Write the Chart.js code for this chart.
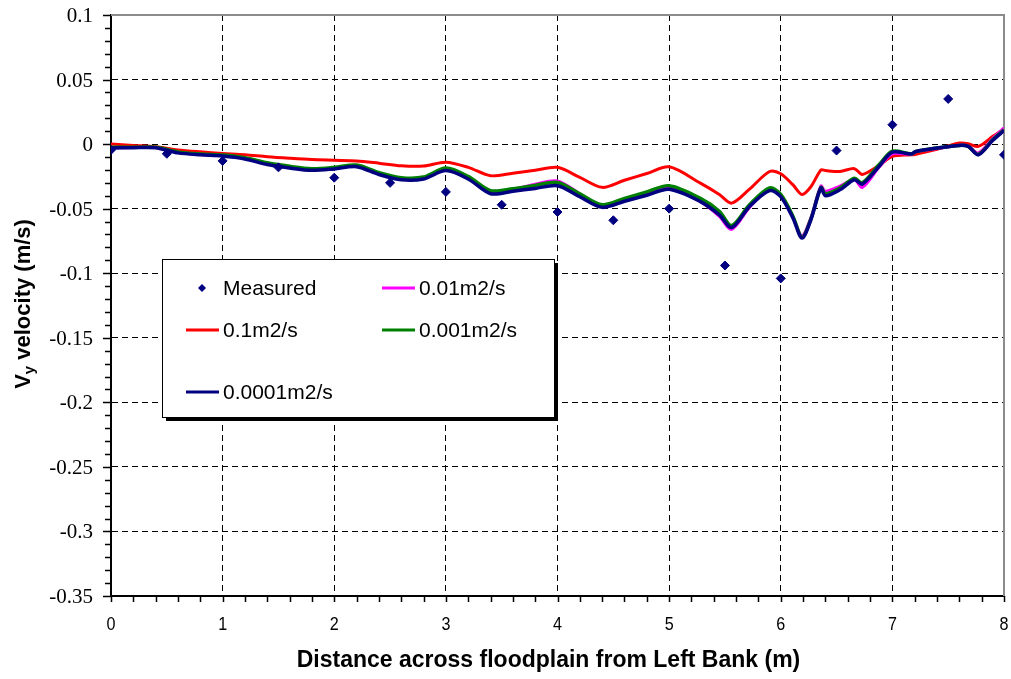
<!DOCTYPE html>
<html>
<head>
<meta charset="utf-8">
<script src="https://cdn.jsdelivr.net/npm/chart.js@4.4.1/dist/chart.umd.min.js"></script>
<style>
  html, body { margin: 0; padding: 0; background: #fff; }
  #wrap { width: 1011px; height: 679px; }
</style>
</head>
<body>
<div id="wrap"><canvas id="vyChart" width="1011" height="679"></canvas></div>
<script>
// Measured points
const measuredX = [0, 0.5, 1, 1.5, 2, 2.5, 3, 3.5, 4, 4.5, 5, 5.5, 6, 6.5, 7, 7.5, 8];
const measuredY = [-0.0045, -0.0075, -0.013, -0.018, -0.026, -0.030, -0.037, -0.047, -0.0526, -0.059,
  -0.050, -0.094, -0.104, -0.005, 0.015, 0.035, -0.0083];

// Model nodes across the floodplain
const modelX = [0, 0.2, 0.4, 0.6, 0.8, 1.0, 1.2, 1.4, 1.6, 1.8, 2.0, 2.2, 2.4, 2.6, 2.8, 3.0, 3.2, 3.4, 3.6, 3.8,
  4.0, 4.2, 4.4, 4.6, 4.8, 5.0, 5.28, 5.45, 5.56, 5.72, 5.9, 6.0, 6.11, 6.19, 6.27, 6.36, 6.4, 6.53, 6.66, 6.73,
  6.88, 7.0, 7.17, 7.21, 7.4, 7.6, 7.68, 7.77, 7.9, 8.0];

// eddy viscosity 0.1 m2/s
const visc01 = [0.000, -0.001, -0.002, -0.0045, -0.006, -0.0072, -0.0082, -0.0098, -0.011, -0.012,
  -0.0125, -0.013, -0.0148, -0.0168, -0.017, -0.014, -0.018, -0.0245, -0.0225, -0.0202,
  -0.018, -0.0258, -0.0335, -0.028, -0.0228, -0.0176, -0.0302, -0.039, -0.0457, -0.0349,
  -0.0212, -0.023, -0.0316, -0.039, -0.033, -0.020, -0.0205, -0.0212, -0.019, -0.0235,
  -0.0165, -0.0095, -0.0083, -0.0078, -0.004, 0.0008, 0.0003, -0.0018, 0.006, 0.0115];

// 0.01 m2/s
const visc001 = [-0.0028, -0.0027, -0.0027, -0.0065, -0.008, -0.009, -0.011, -0.0152, -0.018, -0.0198,
  -0.0186, -0.017, -0.023, -0.027, -0.0265, -0.0195, -0.026, -0.0372, -0.0352, -0.031,
  -0.0285, -0.0385, -0.048, -0.0435, -0.038, -0.033, -0.0445, -0.056, -0.066, -0.049,
  -0.035, -0.040, -0.057, -0.071, -0.057, -0.0325, -0.0365, -0.0325, -0.0275, -0.0335,
  -0.018, -0.0075, -0.008, -0.006, -0.0035, -0.0008, -0.0015, -0.0068, 0.0045, 0.0125];

// 0.001 m2/s
const visc0001 = [-0.0025, -0.0025, -0.0025, -0.006, -0.0076, -0.0085, -0.0105, -0.0145, -0.0172, -0.019,
  -0.018, -0.0162, -0.022, -0.026, -0.0255, -0.0185, -0.025, -0.036, -0.0345, -0.032,
  -0.0297, -0.0385, -0.047, -0.042, -0.037, -0.0322, -0.042, -0.052, -0.063, -0.047,
  -0.034, -0.039, -0.056, -0.072, -0.058, -0.0335, -0.0385, -0.034, -0.0265, -0.030,
  -0.016, -0.0055, -0.0075, -0.0057, -0.003, -0.001, -0.0018, -0.008, 0.0035, 0.011];

// 0.0001 m2/s
const visc00001 = [-0.003, -0.0028, -0.0028, -0.0068, -0.0083, -0.0092, -0.0115, -0.0158, -0.0185, -0.0203,
  -0.0192, -0.0175, -0.0235, -0.0276, -0.027, -0.0205, -0.027, -0.0384, -0.0365, -0.0343,
  -0.0322, -0.0408, -0.049, -0.0443, -0.0396, -0.035, -0.0445, -0.0548, -0.0646, -0.0483,
  -0.036, -0.0406, -0.0573, -0.0728, -0.0586, -0.034, -0.040, -0.0354, -0.0276, -0.031,
  -0.0173, -0.0062, -0.0077, -0.0057, -0.003, -0.001, -0.0018, -0.0083, 0.003, 0.0105];

const seriesLabels = ['Measured', '0.01m2/s', '0.1m2/s', '0.001m2/s', '0.0001m2/s'];
const xTitle = 'Distance across floodplain from Left Bank (m)';

function toPoints(xs, ys) {
  return xs.map((x, i) => ({ x: x, y: ys[i] }));
}

function lineSet(label, data, color, width, order) {
  return {
    type: 'line',
    label: label,
    data: toPoints(modelX, data),
    borderColor: color,
    backgroundColor: color,
    borderWidth: width,
    pointRadius: 0,
    tension: 0.3,
    fill: false,
    order: order
  };
}

function fmtTick(v) {
  return String(Math.round(v * 100) / 100);
}

// Ticks, labels, border, axis titles, legend
const extrasPlugin = {
  id: 'extras',
  beforeDatasetsDraw(chart) {
    const ctx = chart.ctx;
    const { left, right, top, bottom } = chart.chartArea;
    const xs = chart.scales.x;
    const ys = chart.scales.y;
    ctx.save();
    ctx.strokeStyle = '#8c8c8c';
    ctx.lineWidth = 2;
    ctx.beginPath();
    ctx.moveTo(left, top);
    ctx.lineTo(right, top);
    ctx.lineTo(right, bottom);
    ctx.stroke();

    // minor and major tick marks
    ctx.strokeStyle = '#000';
    ctx.lineWidth = 1.5;
    ctx.beginPath();
    for (let i = -35; i <= 10; i++) {
      const y = Math.round(ys.getPixelForValue(i / 100)) + 0.5;
      const len = (i % 5 === 0) ? 8 : 6;
      ctx.moveTo(left - len, y);
      ctx.lineTo(left, y);
    }
    for (let i = 0; i <= 40; i++) {
      const x = Math.round(xs.getPixelForValue(i / 5)) + 0.5;
      ctx.moveTo(x, bottom);
      ctx.lineTo(x, bottom + 6);
    }
    ctx.stroke();

    // tick labels
    ctx.fillStyle = '#000';
    ctx.font = '21px "Liberation Serif", "Times New Roman", Times, "Nimbus Roman", "DejaVu Serif", "Noto Serif", serif';
    ctx.textAlign = 'right';
    ctx.textBaseline = 'middle';
    ys.ticks.forEach((t) => {
      ctx.fillText(fmtTick(t.value), left - 18, ys.getPixelForValue(t.value) + 1.5);
    });
    ctx.font = '19px "Liberation Sans", Arial, sans-serif';
    ctx.textAlign = 'center';
    xs.ticks.forEach((t) => {
      const px = xs.getPixelForValue(t.value);
      ctx.save();
      ctx.translate(px, bottom + 29);
      ctx.scale(0.85, 1);
      ctx.fillText(fmtTick(t.value), 0, 0);
      ctx.restore();
    });
    ctx.restore();
  },
  afterDraw(chart) {
    const ctx = chart.ctx;
    const { left, right, top, bottom } = chart.chartArea;
    ctx.save();
    ctx.fillStyle = '#000';

    // x axis title
    ctx.font = 'bold 23px "Liberation Sans", Arial, sans-serif';
    ctx.textAlign = 'center';
    ctx.textBaseline = 'middle';
    ctx.fillText(xTitle, (left + right) / 2 - 9, 661);

    // y axis title with subscript
    const big = 'bold 22px "Liberation Sans", Arial, sans-serif';
    const small = 'bold 15px "Liberation Sans", Arial, sans-serif';
    ctx.font = big;
    const wV = ctx.measureText('V').width;
    const wRest = ctx.measureText(' velocity (m/s)').width;
    ctx.font = small;
    const wSub = ctx.measureText('y').width;
    const total = wV + wSub + wRest;
    ctx.translate(22, 304);
    ctx.rotate(-Math.PI / 2);
    ctx.textAlign = 'left';
    ctx.textBaseline = 'alphabetic';
    let cx = -total / 2;
    ctx.font = big;
    ctx.fillText('V', cx, 8);
    cx += wV;
    ctx.font = small;
    ctx.fillText('y', cx, 12);
    cx += wSub;
    ctx.font = big;
    ctx.fillText(' velocity (m/s)', cx, 8);
    ctx.restore();

    // legend box
    ctx.save();
    const bx = 162, by = 259, bw = 392, bh = 158;
    ctx.fillStyle = '#000';
    ctx.fillRect(bx + 4, by + 4, bw, bh);
    ctx.fillStyle = '#fff';
    ctx.fillRect(bx, by, bw, bh);
    ctx.strokeStyle = '#000';
    ctx.lineWidth = 1;
    ctx.strokeRect(bx + 0.5, by + 0.5, bw, bh);

    const cols = [186, 382];
    const rows = [288, 330, 392];
    ctx.font = '21px "Liberation Sans", Arial, sans-serif';
    ctx.textAlign = 'left';
    ctx.textBaseline = 'middle';
    chart.data.datasets.forEach((ds, i) => {
      const cxL = cols[i % 2];
      const cyL = rows[Math.floor(i / 2)];
      if (ds.type === 'scatter') {
        const r = 4;
        const mx = cxL + 16;
        ctx.fillStyle = ds.backgroundColor;
        ctx.beginPath();
        ctx.moveTo(mx - r, cyL);
        ctx.lineTo(mx, cyL - r);
        ctx.lineTo(mx + r, cyL);
        ctx.lineTo(mx, cyL + r);
        ctx.closePath();
        ctx.fill();
      } else {
        ctx.strokeStyle = ds.borderColor;
        ctx.lineWidth = 3;
        ctx.beginPath();
        ctx.moveTo(cxL, cyL);
        ctx.lineTo(cxL + 33, cyL);
        ctx.stroke();
      }
      ctx.fillStyle = '#000';
      ctx.fillText(ds.label, cxL + 37, cyL + 1);
    });
    ctx.restore();
  }
};

const ctx = document.getElementById('vyChart').getContext('2d');
const vyChart = new Chart(ctx, {
  type: 'line',
  data: {
    datasets: [
      {
        type: 'scatter',
        label: seriesLabels[0],
        data: toPoints(measuredX, measuredY),
        pointStyle: 'rectRot',
        pointRadius: 4.5,
        pointBackgroundColor: '#000080',
        pointBorderColor: '#000080',
        pointBorderWidth: 1,
        backgroundColor: '#000080',
        borderColor: '#000080',
        showLine: false,
        order: 0
      },
      lineSet(seriesLabels[1], visc001, '#ff00ff', 3, 3),
      lineSet(seriesLabels[2], visc01, '#ff0000', 3, 4),
      lineSet(seriesLabels[3], visc0001, '#008000', 3.5, 2),
      lineSet(seriesLabels[4], visc00001, '#000080', 3.5, 1)
    ]
  },
  options: {
    responsive: false,
    animation: false,
    layout: { padding: { left: 0, top: 15, right: 7, bottom: 0 } },
    plugins: {
      legend: { display: false },
      tooltip: { enabled: false }
    },
    scales: {
      x: {
        type: 'linear',
        min: 0,
        max: 8,
        afterFit: (scale) => { scale.height = 83; scale.paddingLeft = 0; scale.paddingRight = 0; },
        ticks: { stepSize: 1, display: false },
        grid: {
          drawTicks: false,
          color: (c) => (c.tick && (c.tick.value === 0 || c.tick.value === 8)) ? 'rgba(0,0,0,0)' : '#000',
          lineWidth: 1
        },
        border: { display: true, color: '#000', width: 2, dash: [6, 4] }
      },
      y: {
        type: 'linear',
        min: -0.35,
        max: 0.1,
        afterFit: (scale) => { scale.width = 111; scale.paddingTop = 0; scale.paddingBottom = 0; },
        ticks: { stepSize: 0.05, display: false },
        grid: {
          drawTicks: false,
          color: (c) => (c.tick && (Math.abs(c.tick.value - 0.1) < 1e-9 || Math.abs(c.tick.value + 0.35) < 1e-9)) ? 'rgba(0,0,0,0)' : '#000',
          lineWidth: 1
        },
        border: { display: true, color: '#000', width: 2, dash: [6, 4] }
      }
    }
  },
  plugins: [extrasPlugin]
});
</script>
</body>
</html>
